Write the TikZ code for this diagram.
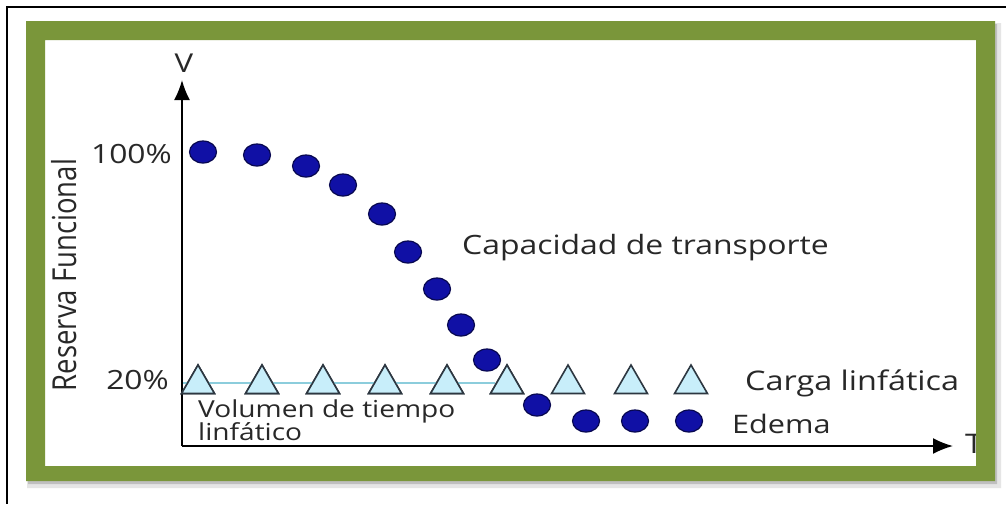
\documentclass[tikz,border=0pt]{standalone}
\usepackage{fontspec}
\setmainfont{Open Sans}
\usetikzlibrary{shapes.geometric,arrows.meta}
\definecolor{frameg}{RGB}{122,150,58}
\definecolor{dotb}{RGB}{16,16,165}
\definecolor{dotd}{RGB}{8,8,80}
\definecolor{trif}{RGB}{200,238,250}
\definecolor{tril}{RGB}{45,55,65}
\definecolor{linec}{RGB}{140,205,220}
\definecolor{txt}{RGB}{40,40,40}
\newcommand\widetxt[1]{\scalebox{1.2}[1]{#1}}
\newcommand\talltxt[1]{\scalebox{1}[1.2]{#1}}
\newcommand\fs[1]{\fontsize{#1}{#1}\selectfont}
\begin{document}
\begin{tikzpicture}[x=1pt,y=-1pt,
  dot/.style={ellipse,fill=dotb,draw=dotd,line width=1.2pt,minimum width=27pt,minimum height=22pt,inner sep=0pt},
  tri/.style={regular polygon,regular polygon sides=3,fill=trif,draw=tril,line width=1.6pt,minimum size=38pt,inner sep=0pt},
  lbl/.style={text=txt,inner sep=0pt},
  axis/.style={line width=1.8pt,-{Latex[length=20pt,width=16pt]}},
  ring/.style={even odd rule}]
\useasboundingbox (0,0) rectangle (1006,504);
\fill[white] (0,0) rectangle (1006,504);
% soft shadow of frame
\fill[ring,black!18] (28,24) rectangle (999,486) (40,35) rectangle (981,471);
\fill[ring,black!10] (27,23) rectangle (1001,488) (40,35) rectangle (981,471);
\fill[ring,black!25] (28,24) rectangle (997,484) (40,35) rectangle (981,471);

% axes
\coordinate (O) at (182,446);
\coordinate (Ytop) at (182,80);
\coordinate (Xend) at (953,446);
\draw[axis] (O) -- (Ytop);
\draw[axis] (O) -- (Xend);
\node[lbl,anchor=base,font=\fs{26}] (V) at (184,72) {\widetxt{V}};
\node[lbl,anchor=base west,font=\fs{27}] (T) at (965,453) {\widetxt{T}};

% triangles
\foreach \i/\x in {1/198,2/262,3/323,4/385,5/447,6/507,7/568,8/631,9/691}
  \node[tri] (t\i) at (\x,384) {};
\coordinate (L0) at (183,383);
\draw[linec,line width=1.5pt] (L0) -- (L0 -| t6.west);
\foreach \i in {1,...,6} \node[tri] at (t\i) {};

% dots
\foreach \i/\x/\y in {1/203/152,2/257/155,3/306/166,4/343/185,5/382/214,6/408/252,7/437/289,8/461/325,9/487/360,10/537/405,11/586/421,12/635/421,13/689/421}
  \node[dot] (d\i) at (\x,\y) {};

% labels
\node[lbl,anchor=base east,font=\fs{26.5}] (p100) at (172,163) {\widetxt{100\%}};
\node[lbl,anchor=base east,font=\fs{26.5}] (p20) at (169,389) {\widetxt{20\%}};
\node[lbl,rotate=90,font=\fs{27.5}] (rf) at (64,275) {\talltxt{Reserva Funcional}};
\node[lbl,anchor=base west,font=\fs{26.6}] (cap) at (462,254) {\widetxt{Capacidad de transporte}};
\node[lbl,anchor=base west,font=\fs{27}] (carga) at (745,390) {\widetxt{Carga linfática}};
\node[lbl,anchor=base west,font=\fs{25.5}] (edema) at (732,433) {\widetxt{Edema}};
\node[lbl,anchor=base west,font=\fs{23.4}] (vol1) at (198,417) {\widetxt{Volumen de tiempo}};
\node[lbl,anchor=base west,font=\fs{23.4}] (vol2) at (198,440) {\widetxt{linfático}};

% green frame
\fill[ring,frameg] (26,21) rectangle (995,481) (45,40) rectangle (976,466);
% black border lines (top and left)
\draw[line width=2pt] (6,6.5) -- (1006,6.5);
\draw[line width=2pt] (6.5,6) -- (6.5,504);
\end{tikzpicture}
\end{document}
